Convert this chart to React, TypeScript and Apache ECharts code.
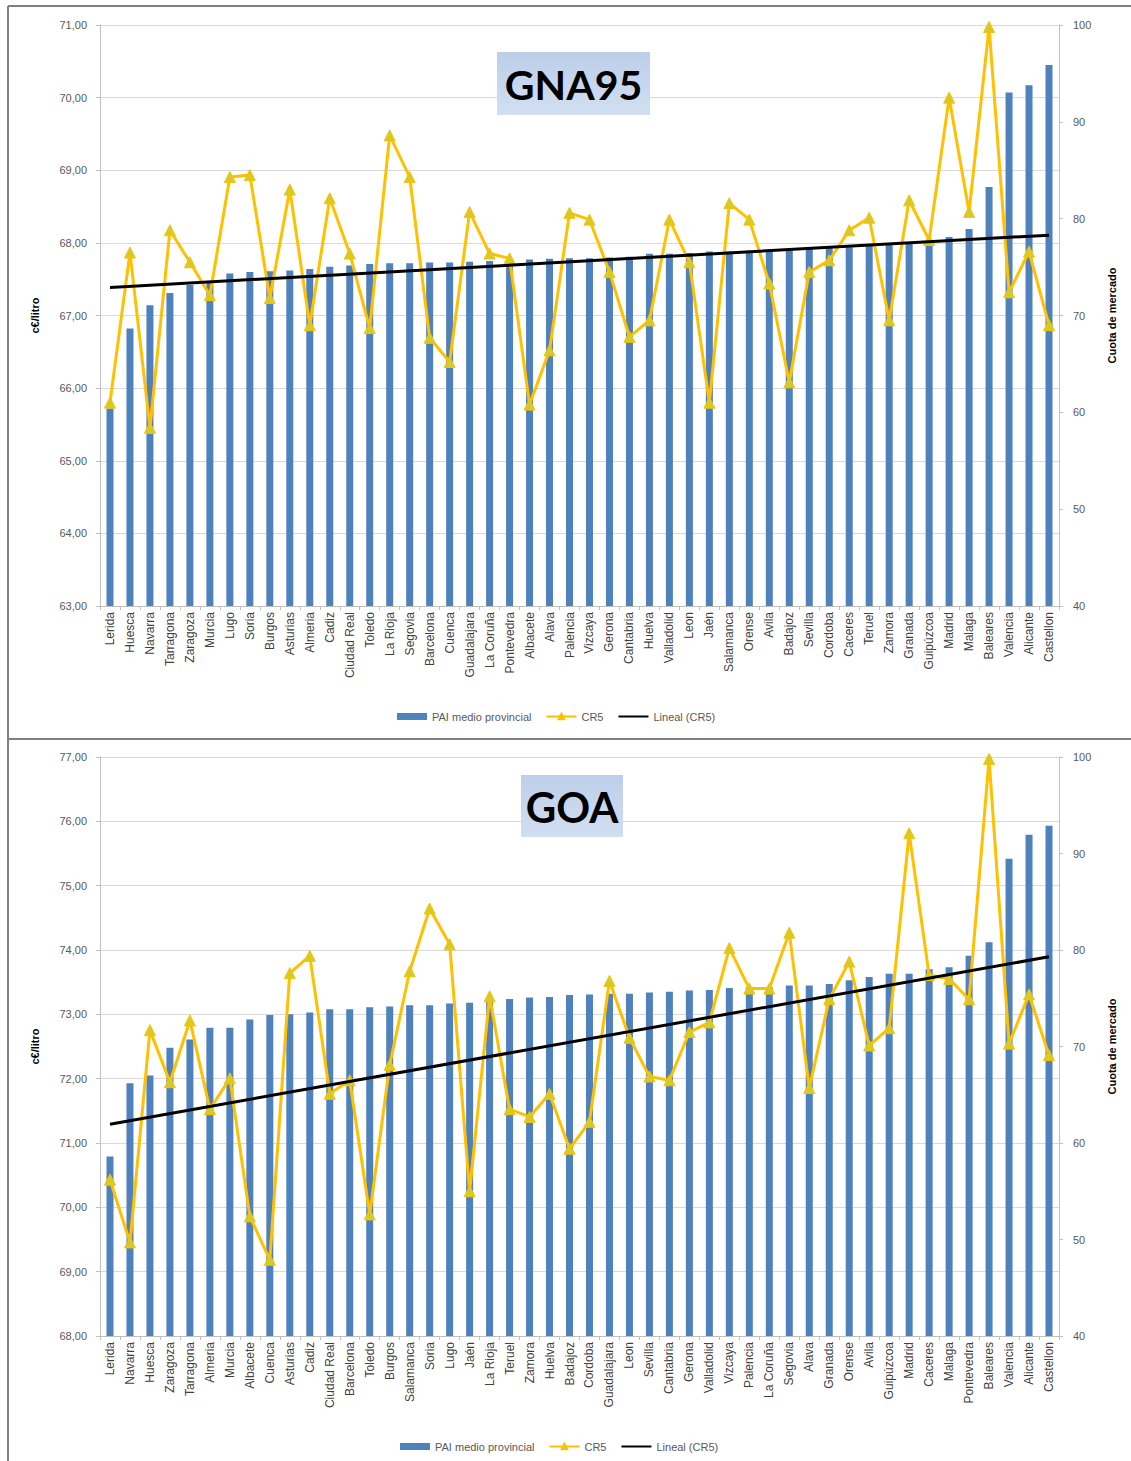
import React, { useEffect, useRef } from 'react';
import * as echarts from 'echarts';

// ---------- GNA95 ----------
const gnaCategories = [
  'Lerida', 'Huesca', 'Navarra', 'Tarragona', 'Zaragoza', 'Murcia', 'Lugo', 'Soria', 'Burgos', 'Asturias',
  'Almeria', 'Cadiz', 'Ciudad Real', 'Toledo', 'La Rioja', 'Segovia', 'Barcelona', 'Cuenca', 'Guadalajara', 'La Coruña',
  'Pontevedra', 'Albacete', 'Alava', 'Palencia', 'Vizcaya', 'Gerona', 'Cantabria', 'Huelva', 'Valladolid', 'Leon',
  'Jaén', 'Salamanca', 'Orense', 'Avila', 'Badajoz', 'Sevilla', 'Cordoba', 'Caceres', 'Teruel', 'Zamora',
  'Granada', 'Guipúzcoa', 'Madrid', 'Malaga', 'Baleares', 'Valencia', 'Alicante', 'Castellon',
];
const gnaPai = [
  65.72, 66.82, 67.14, 67.31, 67.42, 67.45, 67.58, 67.6, 67.61, 67.62,
  67.64, 67.67, 67.69, 67.71, 67.72, 67.72, 67.73, 67.73, 67.74, 67.75,
  67.76, 67.77, 67.78, 67.79, 67.79, 67.8, 67.81, 67.85, 67.85, 67.86,
  67.88, 67.88, 67.89, 67.9, 67.9, 67.92, 67.93, 67.94, 67.97, 67.98,
  68.0, 68.02, 68.08, 68.19, 68.77, 70.07, 70.17, 70.45,
];
const gnaCr5 = [
  61.0, 76.5, 58.4, 78.8, 75.5, 72.1, 84.3, 84.5, 71.8, 83.0,
  69.0, 82.1, 76.4, 68.7, 88.6, 84.3, 67.7, 65.2, 80.7, 76.4,
  75.9, 60.8, 66.4, 80.6, 79.9, 74.5, 67.8, 69.5, 79.9, 75.5,
  61.0, 81.6, 79.9, 73.3, 63.1, 74.5, 75.7, 78.8, 80.1, 69.5,
  81.9, 77.8, 92.5, 80.7, 99.8, 72.4, 76.6, 69.0,
];
const gnaTrend = [72.9, 78.3];
const gnaLeftTicks = { min: 63, max: 71, interval: 1 };

// ---------- GOA ----------
const goaCategories = [
  'Lerida', 'Navarra', 'Huesca', 'Zaragoza', 'Tarragona', 'Almeria', 'Murcia', 'Albacete', 'Cuenca', 'Asturias',
  'Cadiz', 'Ciudad Real', 'Barcelona', 'Toledo', 'Burgos', 'Salamanca', 'Soria', 'Lugo', 'Jaén', 'La Rioja',
  'Teruel', 'Zamora', 'Huelva', 'Badajoz', 'Cordoba', 'Guadalajara', 'Leon', 'Sevilla', 'Cantabria', 'Gerona',
  'Valladolid', 'Vizcaya', 'Palencia', 'La Coruña', 'Segovia', 'Alava', 'Granada', 'Orense', 'Avila', 'Guipúzcoa',
  'Madrid', 'Caceres', 'Malaga', 'Pontevedra', 'Baleares', 'Valencia', 'Alicante', 'Castellon',
];
const goaPai = [
  70.79, 71.93, 72.05, 72.48, 72.61, 72.79, 72.79, 72.92, 72.99, 73.0,
  73.03, 73.08, 73.08, 73.11, 73.12, 73.14, 73.14, 73.17, 73.18, 73.19,
  73.24, 73.26, 73.27, 73.3, 73.31, 73.32, 73.32, 73.34, 73.35, 73.37,
  73.38, 73.41, 73.42, 73.42, 73.45, 73.45, 73.47, 73.53, 73.58, 73.63,
  73.63, 73.7, 73.73, 73.91, 74.12, 75.42, 75.79, 75.93,
];
const goaCr5 = [
  56.2, 49.7, 71.7, 66.3, 72.7, 63.5, 66.7, 52.4, 47.9, 77.6,
  79.4, 65.1, 66.5, 52.6, 68.1, 77.8, 84.3, 80.6, 55.0, 75.2,
  63.5, 62.7, 65.1, 59.4, 62.2, 76.8, 70.9, 66.9, 66.5, 71.5,
  72.5, 80.2, 76.0, 76.0, 81.8, 65.7, 74.9, 78.8, 70.1, 71.9,
  92.1, 77.4, 77.0, 74.9, 99.8, 70.3, 75.4, 69.1,
];
const goaTrend = [61.95, 79.3];
const goaLeftTicks = { min: 68, max: 77, interval: 1 };

const rightTicks = { min: 40, max: 100, interval: 10 };

const seriesNames = ['PAI medio provincial', 'CR5', 'Lineal (CR5)'];
const titles = ['GNA95', 'GOA'];

const FONT = '"Liberation Sans", Arial, sans-serif';
const AXIS_COLOR = '#bfbfbf';

function buildOption() {
  const grids = [
    { left: 100, width: 959, top: 25, height: 581 },
    { left: 100, width: 959, top: 757, height: 579 },
  ];
  const sets = [
    { cats: gnaCategories, pai: gnaPai, cr5: gnaCr5, trend: gnaTrend, left: gnaLeftTicks },
    { cats: goaCategories, pai: goaPai, cr5: goaCr5, trend: goaTrend, left: goaLeftTicks },
  ];

  const xAxis: any[] = [];
  const yAxis: any[] = [];
  const series: any[] = [];

  sets.forEach((s, k) => {
    xAxis.push({
      type: 'category',
      gridIndex: k,
      data: s.cats,
      boundaryGap: true,
      axisLine: { lineStyle: { color: AXIS_COLOR, width: 1 } },
      axisTick: { show: true, length: 4, lineStyle: { color: AXIS_COLOR } },
      axisLabel: {
        interval: 0,
        rotate: 90,
        fontSize: 12,
        color: '#404040',
        fontFamily: FONT,
        margin: 6,
      },
      splitLine: { show: false },
    });
    yAxis.push({
      type: 'value',
      gridIndex: k,
      position: 'left',
      min: s.left.min,
      max: s.left.max,
      interval: s.left.interval,
      name: 'c€/litro',
      nameLocation: 'middle',
      nameGap: 60,
      nameRotate: 90,
      nameTextStyle: { fontWeight: 'bold', fontSize: 11, color: '#000', fontFamily: FONT },
      axisLine: { show: true, lineStyle: { color: AXIS_COLOR } },
      axisTick: { show: true, length: 4, lineStyle: { color: AXIS_COLOR } },
      axisLabel: {
        fontSize: 11,
        color: '#595959',
        fontFamily: FONT,
        margin: 13,
        formatter: (v: number) => v.toFixed(2).replace('.', ','),
      },
      splitLine: { show: true, lineStyle: { color: '#d9d9d9', width: 1 } },
    });
    yAxis.push({
      type: 'value',
      gridIndex: k,
      position: 'right',
      min: rightTicks.min,
      max: rightTicks.max,
      interval: rightTicks.interval,
      name: 'Cuota de mercado',
      nameLocation: 'middle',
      nameGap: 47,
      nameRotate: 90,
      nameTextStyle: { fontWeight: 'bold', fontSize: 11, color: '#000', fontFamily: FONT },
      axisLine: { show: true, lineStyle: { color: AXIS_COLOR } },
      axisTick: { show: true, length: 4, lineStyle: { color: AXIS_COLOR } },
      axisLabel: { fontSize: 11, color: '#595959', fontFamily: FONT, margin: 14 },
      splitLine: { show: false },
    });

    series.push({
      type: 'bar',
      name: seriesNames[0],
      xAxisIndex: k,
      yAxisIndex: 2 * k,
      data: s.pai,
      barWidth: 7,
      itemStyle: { color: '#4F81BD' },
      z: 1,
    });
    series.push({
      type: 'line',
      name: seriesNames[1],
      xAxisIndex: k,
      yAxisIndex: 2 * k + 1,
      data: s.cr5,
      symbol: 'triangle',
      symbolSize: 11,
      lineStyle: { color: '#FFC000', width: 3 },
      itemStyle: { color: '#D8C828', borderColor: '#F5C400', borderWidth: 1 },
      z: 3,
    });
    series.push({
      type: 'line',
      name: seriesNames[2],
      xAxisIndex: k,
      yAxisIndex: 2 * k + 1,
      data: [
        [s.cats[0], s.trend[0]],
        [s.cats[s.cats.length - 1], s.trend[1]],
      ],
      symbol: 'none',
      lineStyle: { color: '#000000', width: 3 },
      itemStyle: { color: '#000000' },
      z: 4,
    });
  });

  const legendBase = {
    itemWidth: 30,
    itemHeight: 7,
    itemGap: 14,
    textStyle: { fontSize: 11, color: '#595959', fontFamily: FONT },
    data: [
      { name: seriesNames[0], icon: 'rect' },
      { name: seriesNames[1] },
      { name: seriesNames[2], itemStyle: { opacity: 0 } },
    ],
  };

  const titleBox = (text: string, x: number, y: number, w: number, h: number, size: number) => [
    {
      type: 'rect',
      shape: { x, y, width: w, height: h },
      style: {
        fill: new echarts.graphic.LinearGradient(0, 0, 0, 1, [
          { offset: 0, color: '#BCCEE9' },
          { offset: 1, color: '#D2DFF1' },
        ]),
      },
      z: 10,
    },
    {
      type: 'text',
      x: x + w / 2,
      y: y + h / 2 + 1,
      style: {
        text,
        align: 'center',
        verticalAlign: 'middle',
        fontSize: size,
        fontWeight: 'bold',
        fontFamily: 'Lato, "Open Sans", sans-serif',
        fill: '#000',
      },
      z: 11,
    },
  ];

  return {
    animation: false,
    backgroundColor: '#ffffff',
    grid: grids,
    xAxis,
    yAxis,
    series,
    legend: [
      { ...legendBase, left: 392, top: 706 },
      { ...legendBase, left: 395, top: 1436 },
    ],
    graphic: [
      { type: 'line', shape: { x1: 8, y1: 6, x2: 1131, y2: 6 }, style: { stroke: '#7f7f7f', lineWidth: 2 } },
      { type: 'line', shape: { x1: 8, y1: 6, x2: 8, y2: 1461 }, style: { stroke: '#7f7f7f', lineWidth: 2 } },
      { type: 'line', shape: { x1: 8, y1: 739, x2: 1131, y2: 739 }, style: { stroke: '#7f7f7f', lineWidth: 2 } },
      ...titleBox(titles[0], 497, 52, 153, 63, 41),
      ...titleBox(titles[1], 521, 775, 102, 62, 42),
    ],
  };
}

export default function App() {
  const ref = useRef<HTMLDivElement>(null);
  useEffect(() => {
    if (!ref.current) return;
    const chart = echarts.init(ref.current, undefined, { renderer: 'svg' });
    chart.setOption(buildOption() as any);
    return () => chart.dispose();
  }, []);
  return (
    <div
      ref={ref}
      style={{ position: 'absolute', left: 0, top: 0, width: 1131, height: 1461, background: '#fff' }}
    />
  );
}
